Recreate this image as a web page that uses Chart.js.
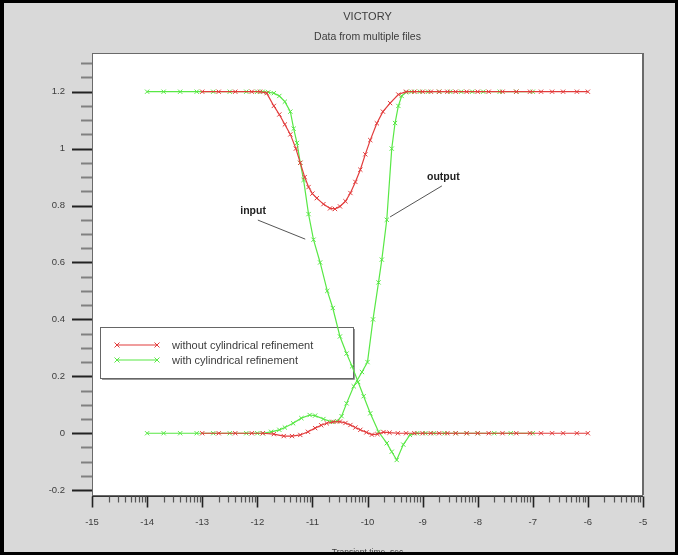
<!DOCTYPE html>
<html lang="en">
<head>
    <meta charset="UTF-8">
    <title>VICTORY</title>
    <script src="https://cdn.jsdelivr.net/npm/chart.js"></script>
    <style>
        html, body { margin: 0; padding: 0; background: #d9d9d9; }
        #chart { display: block; }
    </style>
</head>
<body>
    <canvas id="chart" width="678" height="555"></canvas>
    <script>
        // Titles, series names, tick labels
        const chartTitle = 'VICTORY';
        const chartSubtitle = 'Data from multiple files';
        const xTitle = 'Transient time, sec';
        const seriesNames = ['without cylindrical refinement', 'with cylindrical refinement'];
        const xTickLabels = ['-15', '-14', '-13', '-12', '-11', '-10', '-9', '-8', '-7', '-6', '-5'];
        const yTickLabels = ['-0.2', '0', '0.2', '0.4', '0.6', '0.8', '1', '1.2'];

        // with cylindrical refinement - input (falling curve)
        const greenInX = [-14, -13.7, -13.4, -13.1, -12.8, -12.5, -12.2, -12.0, -11.9, -11.8, -11.7, -11.6, -11.5, -11.4,
            -11.34, -11.28, -11.22, -11.16, -11.07, -10.98, -10.86, -10.73, -10.63, -10.5, -10.38, -10.28, -10.17, -10.07,
            -9.95, -9.8, -9.65, -9.56, -9.47, -9.35, -9.23, -9.1, -8.95, -8.8, -8.6, -8.4, -8.2, -8.0, -7.7, -7.4, -7.0];
        const greenInY = [1.2, 1.2, 1.2, 1.2, 1.2, 1.2, 1.2, 1.2, 1.2, 1.198, 1.195, 1.185, 1.165, 1.13,
            1.07, 1.02, 0.95, 0.89, 0.77, 0.68, 0.60, 0.50, 0.44, 0.34, 0.28, 0.235, 0.18, 0.13,
            0.07, 0.005, -0.035, -0.065, -0.094, -0.04, -0.006, 0, 0, 0, 0, 0, 0, 0, 0, 0, 0];

        // with cylindrical refinement - output (rising curve)
        const greenOutX = [-14, -13.7, -13.4, -13.1, -12.8, -12.5, -12.2, -12.0, -11.9, -11.75, -11.6, -11.5, -11.35, -11.2,
            -11.05, -10.95, -10.8, -10.65, -10.55, -10.47, -10.38, -10.25, -10.1, -10.0, -9.9, -9.8, -9.74, -9.65,
            -9.56, -9.5, -9.44, -9.38, -9.3, -9.2, -9.05, -8.9, -8.7, -8.5, -8.3, -8.1, -7.9, -7.6, -7.3, -7.0];
        const greenOutY = [0, 0, 0, 0, 0, 0, 0, 0, 0, 0.005, 0.012, 0.02, 0.035, 0.053,
            0.064, 0.062, 0.05, 0.04, 0.042, 0.06, 0.105, 0.165, 0.215, 0.25, 0.40, 0.53, 0.61, 0.75,
            1.0, 1.09, 1.15, 1.185, 1.198, 1.2, 1.2, 1.2, 1.2, 1.2, 1.2, 1.2, 1.2, 1.2, 1.2, 1.2];

        // without cylindrical refinement - upper curve (dip)
        const redInX = [-13, -12.7, -12.4, -12.1, -11.95, -11.83, -11.7, -11.6, -11.5, -11.4, -11.3, -11.22, -11.14,
            -11.07, -11.0, -10.92, -10.8, -10.68, -10.59, -10.5, -10.4, -10.31, -10.22, -10.13, -10.04, -9.95, -9.83,
            -9.72, -9.59, -9.44, -9.3, -9.15, -9.0, -8.85, -8.7, -8.55, -8.4, -8.2, -8.0, -7.8, -7.55, -7.3, -7.05,
            -6.85, -6.65, -6.45, -6.2, -6.0];
        const redInY = [1.2, 1.2, 1.2, 1.2, 1.2, 1.195, 1.15, 1.12, 1.085, 1.05, 1.0, 0.95, 0.9,
            0.865, 0.842, 0.826, 0.805, 0.79, 0.788, 0.797, 0.815, 0.844, 0.883, 0.926, 0.98, 1.03, 1.089,
            1.13, 1.16, 1.19, 1.2, 1.2, 1.2, 1.2, 1.2, 1.2, 1.2, 1.2, 1.2, 1.2, 1.2, 1.2, 1.2,
            1.2, 1.2, 1.2, 1.2, 1.2];

        // without cylindrical refinement - lower curve (bump)
        const redOutX = [-13, -12.7, -12.4, -12.1, -11.9, -11.7, -11.52, -11.37, -11.22, -11.08, -10.95, -10.84, -10.74,
            -10.62, -10.5, -10.4, -10.31, -10.22, -10.13, -10.02, -9.92, -9.82, -9.71, -9.6, -9.45, -9.3, -9.15,
            -9.0, -8.85, -8.7, -8.55, -8.4, -8.2, -8.0, -7.8, -7.55, -7.3, -7.05, -6.85, -6.65, -6.45, -6.2, -6.0];
        const redOutY = [0, 0, 0, 0, 0, -0.003, -0.01, -0.01, -0.006, 0.005, 0.018, 0.028, 0.035,
            0.04, 0.041, 0.036, 0.029, 0.02, 0.012, 0.003, -0.005, -0.003, 0.004, 0.002, 0, 0, 0,
            0, 0, 0, 0, 0, 0, 0, 0, 0, 0, 0, 0, 0, 0, 0, 0];

        const RED = '#e23c3c';
        const GREEN = '#58e845';
        const INK = '#3c3c3c';
        const FONT = '"Liberation Sans", Arial, sans-serif';

        // annotation anchors in data units
        const notes = [
            { text: 'input', at: [-12.31, 0.781], from: [-11.99, 0.749], to: [-11.13, 0.682] },
            { text: 'output', at: [-8.92, 0.90], from: [-8.65, 0.869], to: [-9.59, 0.76] }
        ];

        function pts(xs, ys) {
            return xs.map((x, i) => ({ x: x, y: ys[i] }));
        }

        function series(label, color, xs, ys) {
            return {
                label: label,
                data: pts(xs, ys),
                borderColor: color,
                backgroundColor: color,
                borderWidth: 1.2,
                pointStyle: 'crossRot',
                pointRadius: 3,
                pointBorderColor: color,
                pointBorderWidth: 1,
                tension: 0,
                fill: false
            };
        }

        function crossMark(ctx, x, y, r) {
            ctx.beginPath();
            ctx.moveTo(x - r, y - r); ctx.lineTo(x + r, y + r);
            ctx.moveTo(x - r, y + r); ctx.lineTo(x + r, y - r);
            ctx.stroke();
        }

        const victoryFrame = {
            id: 'victoryFrame',
            beforeDraw(chart) {
                const { ctx, chartArea: a } = chart;
                ctx.save();
                ctx.fillStyle = '#d9d9d9';
                ctx.fillRect(0, 0, chart.width, chart.height);
                ctx.fillStyle = '#ffffff';
                ctx.fillRect(a.left, a.top, a.right - a.left, a.bottom - a.top);
                ctx.restore();
            },
            beforeDatasetsDraw(chart) {
                // legend box sits under the curves
                const ctx = chart.ctx;
                ctx.save();
                const lx = 100, ly = 327, lw = 253, lh = 51;
                ctx.fillStyle = '#fff';
                ctx.fillRect(lx, ly, lw, lh);
                ctx.strokeStyle = '#666';
                ctx.lineWidth = 1;
                ctx.strokeRect(lx + 0.5, ly + 0.5, lw, lh);
                ctx.strokeStyle = '#999';
                ctx.beginPath();
                ctx.moveTo(lx + lw + 1.5, ly + 2);
                ctx.lineTo(lx + lw + 1.5, ly + lh + 1.5);
                ctx.lineTo(lx + 2, ly + lh + 1.5);
                ctx.stroke();
                ctx.font = '11px ' + FONT;
                ctx.textAlign = 'left';
                ctx.textBaseline = 'middle';
                [RED, GREEN].forEach((c, i) => {
                    const y = ly + 18 + i * 15;
                    ctx.strokeStyle = c;
                    ctx.lineWidth = 1.2;
                    ctx.beginPath();
                    ctx.moveTo(117, y);
                    ctx.lineTo(157, y);
                    ctx.stroke();
                    ctx.lineWidth = 1;
                    crossMark(ctx, 117, y, 2.5);
                    crossMark(ctx, 157, y, 2.5);
                    ctx.fillStyle = INK;
                    ctx.fillText(seriesNames[i], 172, y + 1);
                });
                ctx.restore();
            },
            afterDraw(chart) {
                const { ctx, chartArea: a } = chart;
                const xs = chart.scales.x, ys = chart.scales.y;
                ctx.save();

                // plot box
                ctx.strokeStyle = '#6a6a6a';
                ctx.lineWidth = 1;
                ctx.strokeRect(a.left + 0.5, a.top + 0.5, a.right - a.left - 1, a.bottom - a.top);
                ctx.beginPath();
                ctx.moveTo(a.right + 0.5, a.top);
                ctx.lineTo(a.right + 0.5, a.bottom);
                ctx.stroke();

                // y axis ticks: majors every 0.2, minors every 0.05
                for (let v = -0.2; v <= ys.max + 1e-9; v += 0.05) {
                    const py = Math.round(ys.getPixelForValue(v)) + 0.5;
                    const major = Math.abs(Math.round(v * 5) - v * 5) < 1e-6;
                    ctx.strokeStyle = major ? '#222' : '#808080';
                    ctx.lineWidth = 2;
                    ctx.beginPath();
                    ctx.moveTo(a.left - (major ? 20 : 11), py);
                    ctx.lineTo(a.left, py);
                    ctx.stroke();
                }
                ctx.fillStyle = INK;
                ctx.font = '9.5px ' + FONT;
                ctx.textAlign = 'right';
                ctx.textBaseline = 'middle';
                yTickLabels.forEach(t => {
                    ctx.fillText(t, a.left - 27, ys.getPixelForValue(Number(t)));
                });

                // x axis line and ticks (minor ticks follow a log pattern)
                const axisY = a.bottom + 1.5;
                ctx.strokeStyle = '#333';
                ctx.lineWidth = 1;
                ctx.beginPath();
                ctx.moveTo(a.left, axisY);
                ctx.lineTo(a.right, axisY);
                ctx.stroke();
                const majors = xTickLabels.map(Number);
                majors.forEach((m, i) => {
                    const px = Math.round(xs.getPixelForValue(m)) + 0.5;
                    ctx.strokeStyle = '#222';
                    ctx.lineWidth = 1.6;
                    ctx.beginPath();
                    ctx.moveTo(px, axisY);
                    ctx.lineTo(px, axisY + 11);
                    ctx.stroke();
                    if (i < majors.length - 1) {
                        ctx.strokeStyle = '#555';
                        ctx.lineWidth = 1.2;
                        for (let k = 2; k <= 9; k++) {
                            const mx = Math.round(xs.getPixelForValue(m + Math.log10(k))) + 0.5;
                            ctx.beginPath();
                            ctx.moveTo(mx, axisY);
                            ctx.lineTo(mx, axisY + 6);
                            ctx.stroke();
                        }
                    }
                });
                ctx.fillStyle = INK;
                ctx.textAlign = 'center';
                ctx.textBaseline = 'middle';
                xTickLabels.forEach(t => {
                    ctx.fillText(t, xs.getPixelForValue(Number(t)), a.bottom + 27);
                });

                // titles
                const cx = (a.left + a.right) / 2;
                ctx.font = '11px ' + FONT;
                ctx.fillText(chartTitle, cx, 17);
                ctx.font = '10.5px ' + FONT;
                ctx.fillText(chartSubtitle, cx, 37);

                // annotations
                ctx.font = 'bold 10.5px ' + FONT;
                ctx.textAlign = 'left';
                notes.forEach(n => {
                    ctx.fillStyle = '#222';
                    ctx.fillText(n.text, xs.getPixelForValue(n.at[0]), ys.getPixelForValue(n.at[1]));
                    ctx.strokeStyle = '#555';
                    ctx.lineWidth = 1;
                    ctx.beginPath();
                    ctx.moveTo(xs.getPixelForValue(n.from[0]), ys.getPixelForValue(n.from[1]));
                    ctx.lineTo(xs.getPixelForValue(n.to[0]), ys.getPixelForValue(n.to[1]));
                    ctx.stroke();
                });

                // x axis title, partly under the outer frame
                ctx.font = '8.5px ' + FONT;
                ctx.textAlign = 'center';
                ctx.textBaseline = 'alphabetic';
                ctx.fillStyle = INK;
                ctx.fillText(xTitle, cx, 555);

                // outer black frame
                ctx.fillStyle = '#000';
                ctx.fillRect(0, 0, chart.width, 3);
                ctx.fillRect(0, chart.height - 3, chart.width, 3);
                ctx.fillRect(0, 0, 4, chart.height);
                ctx.fillRect(chart.width - 3, 0, 3, chart.height);
                ctx.restore();
            }
        };

        new Chart(document.getElementById('chart'), {
            type: 'line',
            data: {
                datasets: [
                    series(seriesNames[0], RED, redInX, redInY),
                    series(seriesNames[0], RED, redOutX, redOutY),
                    series(seriesNames[1], GREEN, greenInX, greenInY),
                    series(seriesNames[1], GREEN, greenOutX, greenOutY)
                ]
            },
            options: {
                responsive: false,
                animation: false,
                devicePixelRatio: 1,
                layout: { padding: { left: 92, right: 35, top: 53, bottom: 60 } },
                scales: {
                    x: { type: 'linear', min: -15, max: -5, display: false },
                    y: { type: 'linear', min: -0.217, max: 1.336, display: false }
                },
                plugins: {
                    legend: { display: false },
                    tooltip: { enabled: false },
                    title: { display: false }
                }
            },
            plugins: [victoryFrame]
        });
    </script>
</body>
</html>
